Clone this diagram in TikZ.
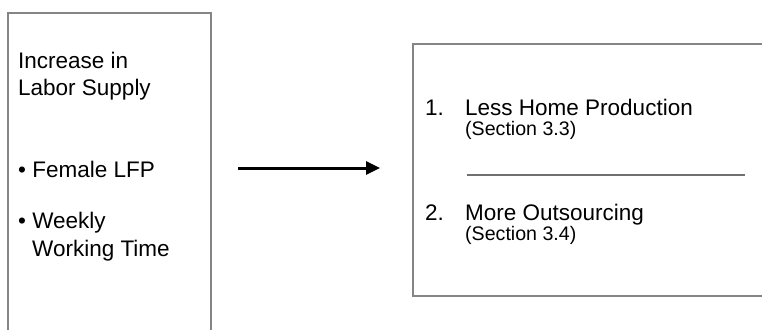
\documentclass[tikz,border=0pt]{standalone}
\usepackage{fontspec}
\setmainfont{Liberation Sans}
\usetikzlibrary{arrows.meta}
\definecolor{framegray}{HTML}{858585}
\definecolor{rulegray}{HTML}{707070}
\tikzset{
  frame/.style={draw=framegray, line width=2pt},
  maintext/.style={anchor=base west, inner sep=0pt, font=\fontsize{22.5}{27}\selectfont},
  subtext/.style={anchor=base west, inner sep=0pt, font=\fontsize{19.6}{23}\selectfont},
  flow/.style={line width=3pt, -{Triangle[length=14pt,width=13pt]}}
}
\begin{document}
\begin{tikzpicture}[x=1pt, y=-1pt]
  \useasboundingbox (0,0) rectangle (762,329);
  \clip (0,0) rectangle (762,329);

  % left frame: labour-supply side (open at the bottom edge)
  \draw[frame] (8,13) rectangle (211,345);
  \node[maintext] (inc1) at (18,68) {Increase in};
  \node[maintext] (inc2) at (18,95) {Labor Supply};
  \node[maintext] (lfp) at (18,177) {• Female LFP};
  \node[maintext] (wk1) at (18,228) {• Weekly};
  \node[maintext] (wk2) at (32,256) {Working Time};

  % right frame: the two consequences (open at the right edge)
  \draw[frame] (413,44) rectangle (790,296);
  \node[maintext] (num1) at (425,115) {1.};
  \node[maintext] (res1) at (465,115) {Less Home Production};
  \node[subtext]  (sec1) at (465,135) {(Section 3.3)};
  \coordinate (divL) at (467,175);
  \coordinate (divR) at (745,175);
  \draw[rulegray, line width=1.5pt] (divL) -- (divR);
  \node[maintext] (num2) at (425,220) {2.};
  \node[maintext] (res2) at (465,220) {More Outsourcing};
  \node[subtext]  (sec2) at (465,240) {(Section 3.4)};

  % causal arrow between the frames
  \coordinate (arrS) at (238,168);
  \coordinate (arrE) at (380,168);
  \draw[flow] (arrS) -- (arrE);
\end{tikzpicture}
\end{document}
